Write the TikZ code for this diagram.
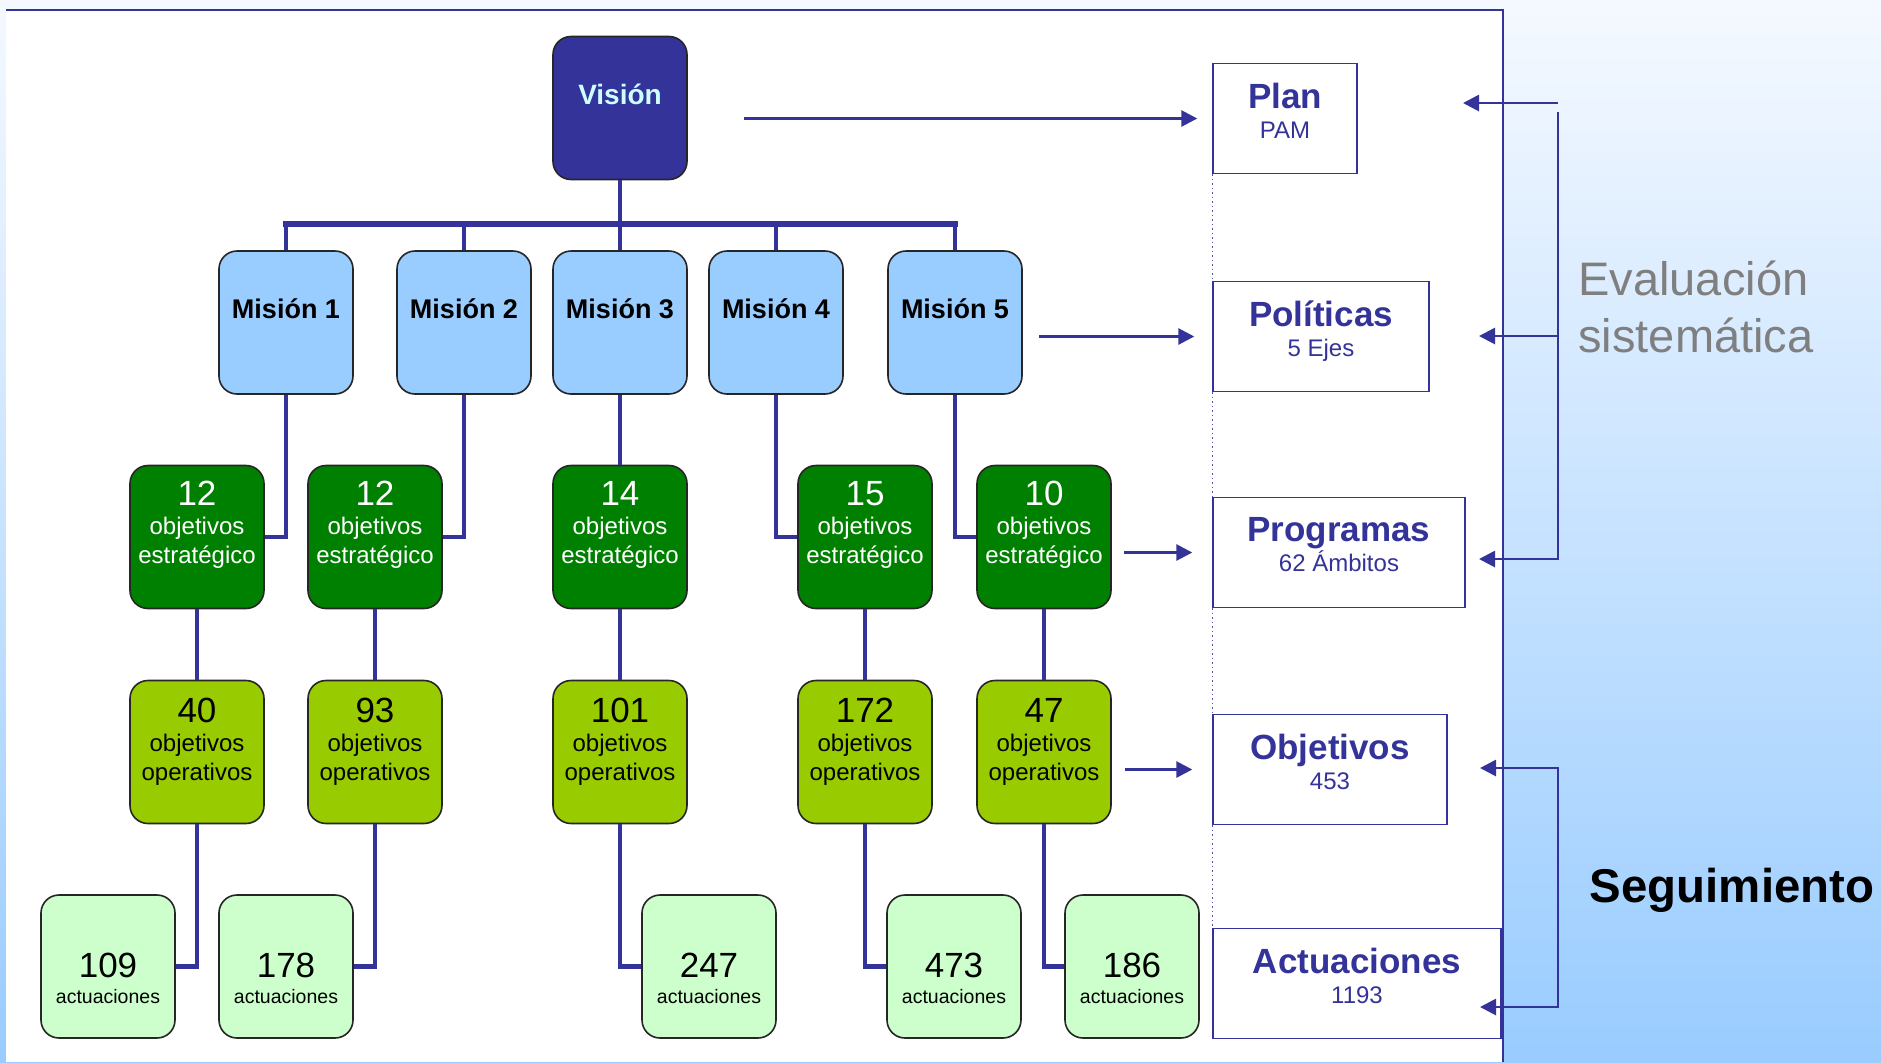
\documentclass[tikz,border=0pt]{standalone}
\usepackage{fontspec}
\setmainfont{Liberation Sans}
\usetikzlibrary{arrows.meta, positioning}

\definecolor{azul}{HTML}{333399}
\definecolor{celeste}{HTML}{99CCFF}
\definecolor{verde}{HTML}{008000}
\definecolor{lima}{HTML}{99CC00}
\definecolor{menta}{HTML}{CCFFCC}
\definecolor{cian}{HTML}{CCFFFF}
\definecolor{fondo}{HTML}{F5F9FF}
\definecolor{gris}{HTML}{7F7F7F}

\newcommand{\cantidad}[1]{{\fontsize{17.5}{17.5}\selectfont #1}}
\newcommand{\rotulo}[1]{{\fontsize{12}{15}\selectfont\mdseries #1}}

\tikzset{
  caja/.style={draw=black!85, line width=0.8pt, rounded corners=9pt, minimum width=67pt, minimum height=71.5pt, inner sep=0pt},
  marco/.style={draw=azul, line width=0.7pt, fill=white, inner sep=0pt, minimum height=55pt},
  rama/.style={draw=azul, line width=2.4pt},
  flecha/.style={draw=azul, line width=1.4pt, -{Triangle[length=8pt, width=8pt]}},
  doble/.style={draw=azul, line width=1.4pt, {Triangle[length=8pt, width=8pt]}-{Triangle[length=8pt, width=8pt]}},
  puntos/.style={draw=azul!85, line width=0.75pt, dash pattern=on 0.75pt off 1.5pt},
  texto/.style={inner sep=0pt, align=center},
  tmision/.style={texto, font=\fontsize{13.5}{16}\selectfont\bfseries},
  tobj/.style={texto, anchor=north, font=\fontsize{12}{14.5}\selectfont},
  tact/.style={texto, anchor=north, font=\fontsize{9.75}{13}\selectfont},
  titulo/.style={texto, anchor=north, text=azul, font=\fontsize{17.5}{15}\selectfont\bfseries},
}

\begin{document}
\begin{tikzpicture}[x=0.5pt, y=-0.5pt]
  \useasboundingbox (0,0) rectangle (1881,1062);
  % fondo y panel
  \shade[top color=fondo, bottom color=celeste] (0,0) rectangle (1881,1062);
  \fill[white] (6,10) rectangle (1503,1062);
  \draw[azul, line width=0.8pt] (6,10) -- (1503,10) -- (1503,1062);

  % arbol
  \node[caja, fill=azul] (vis) at (620,108) {};
  \node[caja, fill=celeste] (m1) at (286,322.5) {};
  \node[caja, fill=celeste] (m2) at (464,322.5) {};
  \node[caja, fill=celeste] (m3) at (620,322.5) {};
  \node[caja, fill=celeste] (m4) at (776,322.5) {};
  \node[caja, fill=celeste] (m5) at (955,322.5) {};
  \node[caja, fill=verde] (e1) at (197,537) {};
  \node[caja, fill=verde] (e2) at (375,537) {};
  \node[caja, fill=verde] (e3) at (620,537) {};
  \node[caja, fill=verde] (e4) at (865,537) {};
  \node[caja, fill=verde] (e5) at (1044,537) {};
  \node[caja, fill=lima] (o1) at (197,752) {};
  \node[caja, fill=lima] (o2) at (375,752) {};
  \node[caja, fill=lima] (o3) at (620,752) {};
  \node[caja, fill=lima] (o4) at (865,752) {};
  \node[caja, fill=lima] (o5) at (1044,752) {};
  \node[caja, fill=menta] (a1) at (108,966.5) {};
  \node[caja, fill=menta] (a2) at (286,966.5) {};
  \node[caja, fill=menta] (a3) at (709,966.5) {};
  \node[caja, fill=menta] (a4) at (954,966.5) {};
  \node[caja, fill=menta] (a5) at (1132,966.5) {};

  \node[tmision, text=cian, font=\fontsize{14}{16}\selectfont\bfseries] (vist) at ([yshift=7pt]vis.center) {Visión};
  \node[tmision] (m1t) at ([yshift=7pt]m1.center) {Misión 1};
  \node[tmision] (m2t) at ([yshift=7pt]m2.center) {Misión 2};
  \node[tmision] (m3t) at ([yshift=7pt]m3.center) {Misión 3};
  \node[tmision] (m4t) at ([yshift=7pt]m4.center) {Misión 4};
  \node[tmision] (m5t) at ([yshift=7pt]m5.center) {Misión 5};
  \node[tobj, text=white] (e1t) at ([yshift=-8pt]e1.north) {\cantidad{12}\\objetivos\\estratégico};
  \node[tobj, text=white] (e2t) at ([yshift=-8pt]e2.north) {\cantidad{12}\\objetivos\\estratégico};
  \node[tobj, text=white] (e3t) at ([yshift=-8pt]e3.north) {\cantidad{14}\\objetivos\\estratégico};
  \node[tobj, text=white] (e4t) at ([yshift=-8pt]e4.north) {\cantidad{15}\\objetivos\\estratégico};
  \node[tobj, text=white] (e5t) at ([yshift=-8pt]e5.north) {\cantidad{10}\\objetivos\\estratégico};
  \node[tobj] (o1t) at ([yshift=-9pt]o1.north) {\cantidad{40}\\objetivos\\operativos};
  \node[tobj] (o2t) at ([yshift=-9pt]o2.north) {\cantidad{93}\\objetivos\\operativos};
  \node[tobj] (o3t) at ([yshift=-9pt]o3.north) {\cantidad{101}\\objetivos\\operativos};
  \node[tobj] (o4t) at ([yshift=-9pt]o4.north) {\cantidad{172}\\objetivos\\operativos};
  \node[tobj] (o5t) at ([yshift=-9pt]o5.north) {\cantidad{47}\\objetivos\\operativos};
  \node[tact] (a1t) at ([yshift=-29pt]a1.north) {\cantidad{109}\\actuaciones};
  \node[tact] (a2t) at ([yshift=-29pt]a2.north) {\cantidad{178}\\actuaciones};
  \node[tact] (a3t) at ([yshift=-29pt]a3.north) {\cantidad{247}\\actuaciones};
  \node[tact] (a4t) at ([yshift=-29pt]a4.north) {\cantidad{473}\\actuaciones};
  \node[tact] (a5t) at ([yshift=-29pt]a5.north) {\cantidad{186}\\actuaciones};

  \coordinate (bus) at (620,224);
  \draw[rama] (vis.south) -- (bus);
  \draw[rama, line width=3.4pt, line cap=rect] (m1.north |- bus) -- (m5.north |- bus);
  \draw[rama] (m1.north) -- (m1.north |- bus);
  \draw[rama] (m2.north) -- (m2.north |- bus);
  \draw[rama] (m3.north) -- (bus);
  \draw[rama] (m4.north) -- (m4.north |- bus);
  \draw[rama] (m5.north) -- (m5.north |- bus);
  \draw[rama] (m1.south) |- (e1.east);
  \draw[rama] (m2.south) |- (e2.east);
  \draw[rama] (m3.south) -- (e3.north);
  \draw[rama] (m4.south) |- (e4.west);
  \draw[rama] (m5.south) |- (e5.west);
  \draw[rama] (e1) -- (o1);
  \draw[rama] (e2) -- (o2);
  \draw[rama] (e3) -- (o3);
  \draw[rama] (e4) -- (o4);
  \draw[rama] (e5) -- (o5);
  \draw[rama] (o1.south) |- (a1.east);
  \draw[rama] (o2.south) |- (a2.east);
  \draw[rama] (o3.south) |- (a3.west);
  \draw[rama] (o4.south) |- (a4.west);
  \draw[rama] (o5.south) |- (a5.west);

  % niveles
  \node[marco, minimum width=72pt] (plan) at (1285,118.5) {};
  \node[marco, minimum width=108pt] (pol) at (1321,336.5) {};
  \node[marco, minimum width=126pt] (prog) at (1339,552.5) {};
  \node[marco, minimum width=117pt] (obj) at (1330,769.5) {};
  \node[marco, minimum width=144pt] (act) at (1357,983.5) {};
  \draw[puntos] (plan.south west) -- (pol.north west);
  \draw[puntos] (pol.south west) -- (prog.north west);
  \draw[puntos] (prog.south west) -- (obj.north west);
  \draw[puntos] (obj.south west) -- (act.north west);

  \node[titulo] (plant) at ([yshift=-10pt]plan.north) {Plan\\\rotulo{PAM}};
  \node[titulo] (polt) at ([yshift=-10pt]pol.north) {Políticas\\\rotulo{5 Ejes}};
  \node[titulo] (progt) at ([yshift=-10pt]prog.north) {Programas\\\rotulo{62 Ámbitos}};
  \node[titulo] (objt) at ([yshift=-10pt]obj.north) {Objetivos\\\rotulo{453}};
  \node[titulo] (actt) at ([yshift=-10pt]act.north) {Actuaciones\\\rotulo{1193}};

  \draw[flecha, shorten <=28pt, shorten >=7.5pt] (vis.east |- plan.west) -- (plan.west);
  \draw[flecha, shorten <=8pt, shorten >=9pt] (m5.east |- pol.west) -- (pol.west);
  \draw[flecha, shorten <=6pt, shorten >=10pt] (e5.east |- prog.west) -- (prog.west);
  \draw[flecha, shorten <=6.5pt, shorten >=10pt] (o5.east |- obj.west) -- (obj.west);

  % evaluacion y seguimiento
  \coordinate (ev1) at (1558,103);
  \coordinate (ev2) at (1558,559);
  \coordinate (sg1) at (1558,768);
  \coordinate (sg2) at (1558,1007);
  \coordinate (pA) at (1463,103);
  \coordinate (pB) at (1479,336);
  \coordinate (pC) at (1479,559);
  \coordinate (pD) at (1480,768);
  \coordinate (pE) at (1480,1007);
  \draw[flecha] (ev1) -- (pA);
  \draw[flecha] ([yshift=-4.5pt]ev1) -- (ev2) -- (pC);
  \draw[flecha] (ev1 |- pB) -- (pB);
  \draw[doble] (pD) -- (sg1) -- (sg2) -- (pE);

  \node[anchor=north west, inner sep=0pt, align=left, text=gris, font=\fontsize{23.5}{28.5}\selectfont] (eval) at (1578,260) {Evaluación\\sistemática};
  \node[anchor=base, inner sep=0pt, font=\fontsize{23.7}{28}\selectfont\bfseries] (seg) at (1732,902) {Seguimiento};
\end{tikzpicture}
\end{document}
